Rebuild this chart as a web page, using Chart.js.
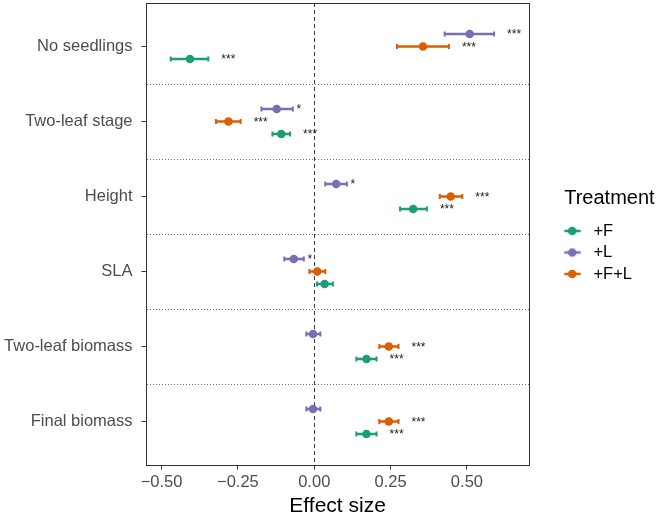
<!DOCTYPE html>
<html lang="en">
<head>
<meta charset="UTF-8">
<title>Effect size by treatment</title>
<script src="https://cdn.jsdelivr.net/npm/chart.js@4"></script>
<style>
  body { margin: 0; background: #ffffff; }
  #wrap { width: 661px; height: 514px; }
</style>
</head>
<body>
<div id="wrap"><canvas id="effectChart" width="661" height="514"></canvas></div>
<script>
// response variables, top to bottom
const categories = ['No seedlings', 'Two-leaf stage', 'Height', 'SLA', 'Two-leaf biomass', 'Final biomass'];
const xTicks = [-0.5, -0.25, 0, 0.25, 0.5];

// +F
const fMean = [-0.407, -0.108, 0.324, 0.034, 0.171, 0.171];
const fLo   = [-0.470, -0.137, 0.281, 0.009, 0.138, 0.138];
const fHi   = [-0.347, -0.079, 0.369, 0.061, 0.204, 0.204];
const fSig  = ['***', '***', '***', '', '***', '***'];

// +L
const lMean = [0.509, -0.123, 0.072, -0.067, -0.004, -0.004];
const lLo   = [0.427, -0.173, 0.036, -0.098, -0.026, -0.026];
const lHi   = [0.589, -0.070, 0.107, -0.034, 0.020, 0.020];
const lSig  = ['***', '*', '*', '*', '', ''];

// +F+L
const flMean = [0.356, -0.281, 0.447, 0.010, 0.244, 0.244];
const flLo   = [0.271, -0.322, 0.411, -0.016, 0.213, 0.213];
const flHi   = [0.441, -0.241, 0.485, 0.036, 0.276, 0.276];
const flSig  = ['***', '***', '***', '', '***', '***'];

const family = '"Liberation Sans", Arial, Helvetica, sans-serif';
Chart.defaults.font.family = family;

// dodge offsets within a category (y axis is reversed, so +L sits on top)
const series = [
  { name: '+F',   color: '#1B9E77', mean: fMean,  lo: fLo,  hi: fHi,  sig: fSig,  dodge: 1 / 6 },
  { name: '+L',   color: '#7570B3', mean: lMean,  lo: lLo,  hi: lHi,  sig: lSig,  dodge: -1 / 6 },
  { name: '+F+L', color: '#D95F02', mean: flMean, lo: flLo, hi: flHi, sig: flSig, dodge: 0 }
];
const slot = (i, s) => i + 1 + s.dodge;

// legend key: short line with a dot, like ggplot's pointrange key
function legendKey(color) {
  const c = document.createElement('canvas');
  c.width = 30; c.height = 12;
  const g = c.getContext('2d');
  g.strokeStyle = color; g.lineWidth = 2.5;
  g.beginPath(); g.moveTo(1.5, 6); g.lineTo(18.5, 6); g.stroke();
  g.fillStyle = color;
  g.beginPath(); g.arc(10, 6, 4.3, 0, Math.PI * 2); g.fill();
  return c;
}

const pointSets = series.map(s => ({
  label: s.name,
  data: s.mean.map((v, i) => ({ x: v, y: slot(i, s) })),
  backgroundColor: s.color,
  borderWidth: 0,
  pointRadius: 4.3,
  showLine: false
}));

const barSets = series.map(s => ({
  label: s.name + ' CI',
  data: s.lo.flatMap((v, i) => [
    { x: v, y: slot(i, s) },
    { x: s.hi[i], y: slot(i, s) },
    { x: s.hi[i], y: null }
  ]),
  showLine: true,
  spanGaps: false,
  borderColor: s.color,
  borderWidth: 2.3,
  pointStyle: 'line',
  pointRotation: 90,
  pointRadius: 2.5,
  pointBorderWidth: 2,
  pointBorderColor: s.color
}));

const yTicks = categories.flatMap((_, i) => i ? [i + 0.5, i + 1] : [1]);

const starLabels = {
  id: 'starLabels',
  afterDatasetsDraw(chart) {
    const { ctx, scales: { x, y } } = chart;
    ctx.save();
    ctx.font = '12px ' + family;
    ctx.fillStyle = '#1a1a1a';
    ctx.textAlign = 'center';
    ctx.textBaseline = 'alphabetic';
    series.forEach(s => s.sig.forEach((mark, i) => {
      if (!mark) return;
      const px = x.getPixelForValue(s.hi[i]) + (mark.length > 1 ? 20 : 6);
      const py = y.getPixelForValue(slot(i, s)) + 4;
      ctx.fillText(mark, px, py);
    }));
    ctx.restore();
  }
};

// the legend clips to its own box; let the title run to the canvas edge
const legendRoom = {
  id: 'legendRoom',
  afterLayout(chart) {
    if (chart.legend) chart.legend.right = chart.width;
  }
};

new Chart(document.getElementById('effectChart'), {
  type: 'scatter',
  data: { datasets: [...pointSets, ...barSets] },
  options: {
    responsive: false,
    animation: false,
    events: [],
    layout: { autoPadding: false, padding: { left: 3, right: 19, top: 3, bottom: 0 } },
    plugins: {
      tooltip: { enabled: false },
      legend: {
        position: 'right',
        align: 'center',
        fullSize: false,
        title: {
          display: true,
          text: 'Treatment',
          position: 'start',
          color: '#000',
          font: { size: 20 },
          padding: { top: 8, bottom: 5 }
        },
        labels: {
          usePointStyle: true,
          boxWidth: 16,
          padding: 5,
          color: '#000',
          font: { size: 16.5 },
          generateLabels: () => series.map((s, i) => ({
            text: s.name,
            datasetIndex: i,
            fillStyle: s.color,
            strokeStyle: 'rgba(0,0,0,0)',
            lineWidth: 0,
            fontColor: '#000',
            pointStyle: legendKey(s.color),
            hidden: false
          }))
        }
      }
    },
    scales: {
      x: {
        type: 'linear',
        position: 'bottom',
        min: -0.551,
        max: 0.704,
        afterBuildTicks: s => { s.ticks = xTicks.map(v => ({ value: v })); },
        afterFit: s => { s.paddingLeft = 0; s.paddingRight = 0; },
        ticks: {
          callback: v => (v < 0 ? '\u2212' : '') + Math.abs(v).toFixed(2),
          color: '#4D4D4D',
          font: { size: 16.5 },
          padding: 3.5,
          maxRotation: 0,
          autoSkip: false
        },
        grid: {
          color: c => (c.tick && c.tick.value === 0) ? '#3d3d3d' : 'rgba(0,0,0,0)',
          lineWidth: 1,
          tickColor: '#333333',
          tickLength: 4.5,
          tickBorderDash: []
        },
        border: { display: true, color: '#333333', width: 1, dash: [4, 3] },
        title: {
          display: true,
          text: 'Effect size',
          color: '#000',
          font: { size: 21, lineHeight: 0.7 },
          padding: { top: 3, bottom: 0 }
        }
      },
      y: {
        type: 'linear',
        reverse: true,
        min: 0.42,
        max: 6.58,
        afterBuildTicks: s => { s.ticks = yTicks.map(v => ({ value: v })); },
        afterFit: s => { s.width = 143; s.paddingTop = 0; s.paddingBottom = 0; },
        ticks: {
          callback: v => Number.isInteger(v) ? categories[v - 1] : '',
          autoSkip: false,
          color: '#4D4D4D',
          font: { size: 16.5 },
          padding: 9
        },
        grid: {
          color: c => (c.tick && !Number.isInteger(c.tick.value)) ? '#6e6e6e' : 'rgba(0,0,0,0)',
          lineWidth: 1,
          tickColor: c => (c.tick && Number.isInteger(c.tick.value)) ? '#333333' : 'rgba(0,0,0,0)',
          tickLength: 4.5,
          tickBorderDash: []
        },
        border: { display: true, color: '#333333', width: 1, dash: [1, 2] }
      },
      xTop: {
        type: 'linear',
        position: 'top',
        ticks: { display: false },
        grid: { display: false, drawTicks: false },
        border: { display: true, color: '#333333', width: 1 },
        afterFit: s => { s.height = 0; s.paddingLeft = 0; s.paddingRight = 0; }
      },
      yRight: {
        type: 'linear',
        position: 'right',
        ticks: { display: false },
        grid: { display: false, drawTicks: false },
        border: { display: true, color: '#333333', width: 1 },
        afterFit: s => { s.width = 35; s.paddingTop = 0; s.paddingBottom = 0; }
      }
    }
  },
  plugins: [starLabels, legendRoom]
});
</script>
</body>
</html>
